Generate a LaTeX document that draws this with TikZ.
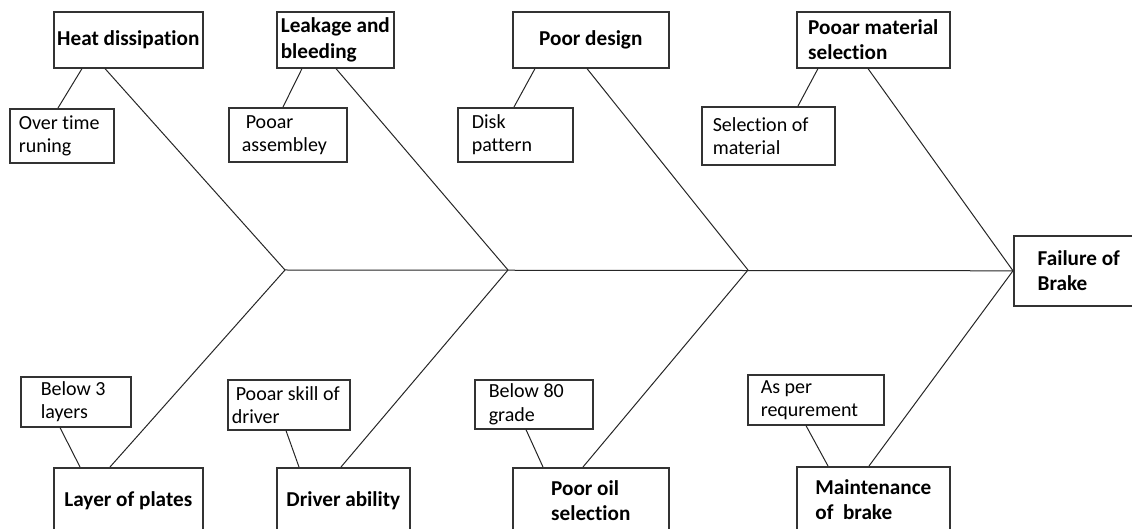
\documentclass[tikz,border=0pt]{standalone}
\usepackage{fontspec}
\setmainfont{Carlito}[Ligatures=CommonOff]
\usetikzlibrary{positioning}

\begin{document}
\begin{tikzpicture}[x=0.5pt, y=-0.5pt,
    every node/.style={align=left, anchor=north west, inner sep=0pt},
    cause/.style={draw=black!80, line width=0.8pt, font=\bfseries\fontsize{10.6}{12.6}\selectfont},
    detail/.style={draw=black!80, line width=0.8pt, align=flush left, font=\fontsize{10}{11.6}\selectfont},
    bone/.style={draw=black!85, line width=0.5pt}]
    \useasboundingbox (0,0) rectangle (1132,529);

    % Effect box
    \node (fail) [cause, minimum width=65pt, minimum height=35pt] at (1013,235) {Failure of\\Brake};

    % Top causes
    \node (heat) [cause, minimum width=74.5pt, minimum height=28pt] at (53,11) {Heat dissipation};
    \node (leak) [cause, minimum width=58.5pt, minimum height=28pt] at (276,11) {Leakage and\\bleeding};
    \node (design) [cause, minimum width=78pt, minimum height=28pt] at (512,11) {Poor design};
    \node (material) [cause, minimum width=76.5pt, minimum height=28pt] at (796,11) {Pooar material\\selection};

    % Top sub causes
    \node (otr) [detail, minimum width=52pt, minimum height=27pt, inner xsep=4.5pt, text width=43pt] at (9,108) {Over time\\runing};
    \node (pa) [detail, minimum width=59pt, minimum height=27pt, inner xsep=6.5pt, text width=46pt] at (228,107) {\hspace{2pt}Pooar\\assembley};
    \node (dp) [detail, minimum width=57.5pt, minimum height=27pt, inner xsep=7pt, text width=43.5pt] at (457,107) {Disk\\pattern};
    \node (sm) [detail, minimum width=66.5pt, minimum height=29pt, inner xsep=5.5pt, text width=55.5pt] at (701,106) {Selection of\\material};

    % Bottom causes
    \node (layer) [cause, minimum width=74.5pt, minimum height=32.5pt] at (53,467) {Layer of plates};
    \node (driver) [cause, minimum width=66.5pt, minimum height=32.5pt] at (276,467) {Driver ability};
    \node (oil) [cause, minimum width=78pt, minimum height=32.5pt] at (512,467) {Poor oil\\selection};
    \node (maint) [cause, minimum width=76.5pt, minimum height=32.5pt] at (796,466) {Maintenance\\of~~brake};

    % Bottom sub causes
    \node (b3) [detail, minimum width=55pt, minimum height=25pt, inner xsep=10pt, text width=35pt] at (20,376) {Below 3\\layers};
    \node (ps) [detail, minimum width=61pt, minimum height=25pt, inner xsep=2pt, text width=57pt] at (227,379) {\hspace{2pt}Pooar skill of\\driver};
    \node (b80) [detail, minimum width=59pt, minimum height=24.5pt, inner xsep=7pt, text width=45pt] at (474,379) {Below 80\\grade};
    \node (apr) [detail, minimum width=68pt, minimum height=25pt, inner xsep=6.5pt, text width=55pt] at (747,374) {As per\\requrement};

    % Spine
    \coordinate (j1) at (285,270);
    \coordinate (j2) at (508,270);
    \coordinate (j3) at (748,270);
    \draw[bone] (j1) -- (fail.west);

    % Top bones
    \draw[bone] ([xshift=26pt]heat.south west) -- (j1);
    \draw[bone] ([xshift=30pt]leak.south west) -- (j2);
    \draw[bone] ([xshift=37.5pt]design.south west) -- (j3);
    \draw[bone] ([xshift=36pt]material.south west) -- (fail.west);
    \draw[bone] ([xshift=14.5pt]heat.south west) -- ([xshift=24.5pt]otr.north west);
    \draw[bone] ([xshift=13pt]leak.south west) -- ([xshift=27.5pt]pa.north west);
    \draw[bone] ([xshift=11.5pt]design.south west) -- ([xshift=28.5pt]dp.north west);
    \draw[bone] ([xshift=11pt]material.south west) -- ([xshift=48.5pt]sm.north west);

    % Bottom bones
    \draw[bone] ([xshift=28.5pt]layer.north west) -- (j1);
    \draw[bone] ([xshift=32.5pt]driver.north west) -- (j2);
    \draw[bone] ([xshift=35.5pt]oil.north west) -- (j3);
    \draw[bone] ([xshift=36.5pt]maint.north west) -- (fail.west);
    \draw[bone] ([xshift=13.5pt]layer.north west) -- ([xshift=20pt]b3.south west);
    \draw[bone] ([xshift=11.5pt]driver.north west) -- ([xshift=29.5pt]ps.south west);
    \draw[bone] ([xshift=15.5pt]oil.north west) -- ([xshift=26pt]b80.south west);
    \draw[bone] ([xshift=16pt]maint.north west) -- ([xshift=29.5pt]apr.south west);
\end{tikzpicture}
\end{document}
